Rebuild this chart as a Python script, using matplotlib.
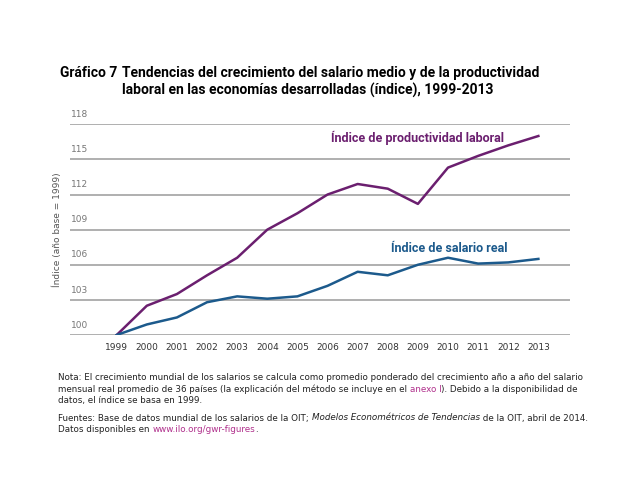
import matplotlib.pyplot as plt
from matplotlib.transforms import blended_transform_factory

years = list(range(1999, 2014))
productividad = [100, 102.5, 103.5, 105.1, 106.6, 109.0, 110.4, 112.0,
                 112.9, 112.5, 111.2, 114.3, 115.3, 116.2, 117.0]
salario = [100, 100.9, 101.5, 102.8, 103.3, 103.1, 103.3, 104.2,
           105.4, 105.1, 106.0, 106.6, 106.1, 106.2, 106.5]
yticks = [100, 103, 106, 109, 112, 115, 118]

purple = '#6b1f6f'
blue = '#1c5a8c'
pink = '#b0308c'
grid_gray = '#9a9a9a'
title_font = ['Roboto', 'DejaVu Sans']

fig = plt.figure(figsize=(6.4, 4.8), dpi=100)
ax = fig.add_axes([70 / 640, 1 - 335 / 480, 500 / 640, (335 - 124.3) / 480])

# gridlines
for v in yticks:
    ax.axhline(v, color=grid_gray, lw=1.1, zorder=1)

ax.plot(years, productividad, color=purple, lw=1.8, zorder=3)
ax.plot(years, salario, color=blue, lw=1.8, zorder=3)

ax.set_xlim(1997.45, 2014.05)
ax.set_ylim(100, 118)
ax.set_xticks(years)
ax.set_xticklabels([str(y) for y in years], fontsize=6.5, color='#333333')
ax.tick_params(axis='x', length=0, pad=6)
ax.set_yticks([])
for s in ax.spines.values():
    s.set_visible(False)

# y tick labels sit above the gridlines
trans = blended_transform_factory(ax.transAxes, ax.transData)
for v in yticks:
    ax.text(0.002, v + 0.45, str(v), transform=trans, fontsize=6.5,
            color='#777777', ha='left', va='bottom')

fig.text(57 / 640, 1 - 230 / 480, 'Índice (año base = 1999)', rotation=90,
         fontsize=6.5, color='#555555', ha='center', va='center')

# series labels
ax.text(2006.1, 116.8, 'Índice de productividad laboral', color=purple,
        fontsize=9, fontweight='bold', family=title_font, ha='left', va='center')
ax.text(2008.1, 107.4, 'Índice de salario real', color=blue,
        fontsize=9, fontweight='bold', family=title_font, ha='left', va='center')

# title
title_kw = dict(fontsize=10, fontweight='bold', family=title_font, va='center', ha='left')
fig.text(60 / 640, 1 - 73 / 480, 'Gráfico 7', **title_kw)
fig.text(122 / 640, 1 - 73 / 480,
         'Tendencias del crecimiento del salario medio y de la productividad', **title_kw)
fig.text(122 / 640, 1 - 90 / 480,
         'laboral en las economías desarrolladas (índice), 1999-2013', **title_kw)

# notes, written as runs of text placed one after another
fig.canvas.draw()
renderer = fig.canvas.get_renderer()


def text_runs(x, y, runs):
    for s, kw in runs:
        style = dict(fontsize=6.3, color='#222222', ha='left', va='center')
        style.update(kw)
        t = fig.text(x, y, s, **style)
        x = t.get_window_extent(renderer).x1 / fig.bbox.width


left = 58 / 640
text_runs(left, 1 - 377 / 480, [
    ('Nota: El crecimiento mundial de los salarios se calcula como promedio ponderado '
     'del crecimiento año a año del salario', {})])
text_runs(left, 1 - 389 / 480, [
    ('mensual real promedio de 36 países (la explicación del método se incluye en el ', {}),
    ('anexo I', {'color': pink}),
    ('). Debido a la disponibilidad de', {})])
text_runs(left, 1 - 401 / 480, [('datos, el índice se basa en 1999.', {})])
text_runs(left, 1 - 418 / 480, [
    ('Fuentes: Base de datos mundial de los salarios de la OIT; ', {}),
    ('Modelos Econométricos de Tendencias', {'style': 'italic'}),
    (' de la OIT, abril de 2014.', {})])
text_runs(left, 1 - 430 / 480, [
    ('Datos disponibles en ', {}),
    ('www.ilo.org/gwr-figures', {'color': pink}),
    ('.', {})])

fig.savefig('out.png', dpi=100)
